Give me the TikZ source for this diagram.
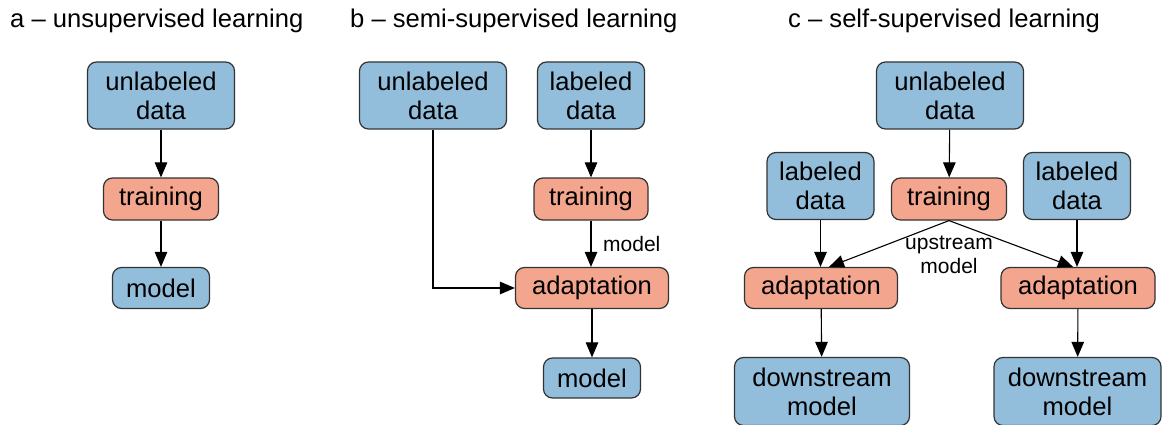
\documentclass[tikz,border=0pt]{standalone}
\usepackage{fontspec}
\setmainfont{Liberation Sans}
\usetikzlibrary{arrows.meta}

\definecolor{boxblue}{RGB}{147,190,219}
\definecolor{boxred}{RGB}{243,165,142}

\begin{document}
\begin{tikzpicture}[x=1pt, y=-1pt,
                data/.style={draw=black!80, line width=1.2pt, rounded corners=9pt, fill=boxblue,
                             align=center, inner sep=0pt, font=\fontsize{25.6}{29}\selectfont},
                proc/.style={data, fill=boxred},
                lbl/.style={font=\fontsize{21}{24}\selectfont, align=center, inner sep=0pt},
                every edge/.style={draw, line width=1.1pt, -{Triangle[length=15pt,width=12.5pt]}}]

                \useasboundingbox (0,0) rectangle (1162,425);

                % titles
                \node[anchor=base west, inner sep=0pt, font=\fontsize{25.6}{29}\selectfont] (Ta) at (10,28) {a -- unsupervised learning};
                \node[anchor=base west, inner sep=0pt, font=\fontsize{25.6}{29}\selectfont] (Tb) at (350,28) {b -- semi-supervised learning};
                \node[anchor=base west, inner sep=0pt, font=\fontsize{25.6}{29}\selectfont] (Tc) at (788,28) {c -- self-supervised learning};

                % a
                \node[data, minimum width=147pt, minimum height=67pt] (A1) at (161,95.5) {unlabeled\\data};
                \node[proc, minimum width=115pt, minimum height=42pt] (A2) at (161,199) {training};
                \node[data, minimum width=97pt, minimum height=41pt] (A3) at (161,288) {model};

                \path (A1) edge (A2);
                \path (A2) edge (A3);

                % b
                \node[data, minimum width=147pt, minimum height=67pt] (B1) at (433,95.5) {unlabeled\\data};
                \node[data, minimum width=107pt, minimum height=67pt] (B2) at (591,95.5) {labeled\\data};
                \node[proc, minimum width=114pt, minimum height=42pt] (B3) at (591,199) {training};
                \node[proc, minimum width=153pt, minimum height=41pt] (B4) at (592,288) {adaptation};
                \node[data, minimum width=97pt, minimum height=40pt] (B5) at (592,378) {model};
                \node[lbl, anchor=west] (Bl) at (603,244) {model};

                \path (B2) edge (B3);
                \path (B3.south) edge (B4.north -| B3.south);
                \path (B4) edge (B5);
                \draw[line width=1.1pt, -{Triangle[length=15pt,width=12.5pt]}] (B1.south) |- (B4.west);

                % c
                \node[data, minimum width=147pt, minimum height=67pt] (C1) at (950,95.5) {unlabeled\\data};
                \node[data, minimum width=107pt, minimum height=67pt] (C2) at (820.5,186) {labeled\\data};
                \node[proc, minimum width=115pt, minimum height=42pt] (C3) at (949,199) {training};
                \node[data, minimum width=107pt, minimum height=67pt] (C4) at (1077,186) {labeled\\data};
                \node[proc, minimum width=153pt, minimum height=41pt] (C5) at (821,288) {adaptation};
                \node[proc, minimum width=154pt, minimum height=41pt] (C6) at (1078,288) {adaptation};
                \node[data, minimum width=175pt, minimum height=68pt] (C7) at (822,391.5) {downstream\\model};
                \node[data, minimum width=167pt, minimum height=68pt] (C8) at (1077.5,391.5) {downstream\\model};
                \node[lbl] (Cl) at (949,255) {upstream\\model};

                \path (C1) edge (C3);
                \path (C2) edge (C5.north -| C2.south);
                \path (C4) edge (C6.north -| C4.south);
                \path (C3.south) edge ([xshift=8pt]C5.north);
                \path (C3.south) edge ([xshift=-5pt]C6.north);
                \path (C5) edge (C7);
                \path (C6) edge (C8);
            \end{tikzpicture}
\end{document}
